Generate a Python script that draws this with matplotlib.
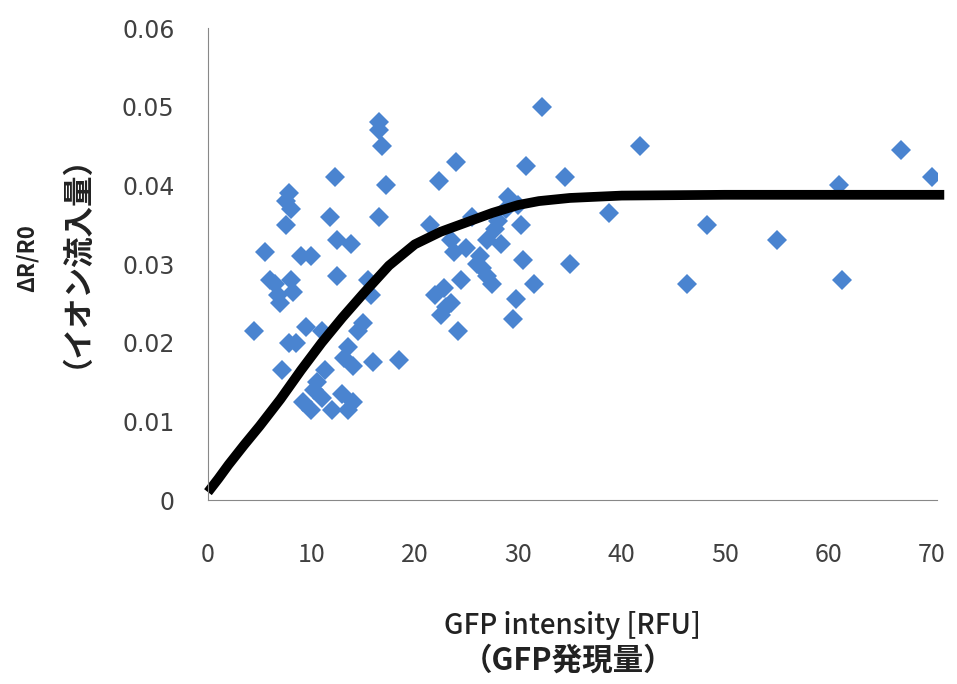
import matplotlib.pyplot as plt

# scatter data
gfp = [4.5, 5.5, 6.0, 6.5, 6.8, 7.0, 7.2, 7.5, 7.8, 8.0, 7.5, 8.0, 7.8, 8.2, 8.5,
       9.0, 9.2, 9.5, 10.0, 10.0, 10.3, 10.5, 11.0, 11.0, 11.3, 11.8, 12.0, 12.3,
       12.5, 12.5, 13.0, 13.2, 13.5, 13.5, 13.8, 14.0, 14.0, 14.5, 15.0, 15.5,
       15.8, 16.0, 16.5, 16.5, 16.8, 16.5, 17.2, 18.5,
       21.5, 22.0, 22.3, 22.5, 22.8, 23.0, 23.5, 23.5, 23.8, 24.0, 24.2, 24.5,
       25.0, 25.5, 26.0, 26.3, 26.5, 27.0, 27.0, 27.5, 27.8, 28.0, 28.3, 28.8,
       29.0, 29.5, 29.8, 30.0, 30.3, 30.5, 30.8, 31.5, 32.3, 34.5, 35.0,
       38.8, 41.8, 46.3, 48.3, 55.0, 61.0, 61.3, 67.0, 70.0]
ratio = [0.0215, 0.0315, 0.028, 0.0275, 0.026, 0.025, 0.0165, 0.038, 0.039, 0.037,
         0.035, 0.028, 0.020, 0.0265, 0.020, 0.031, 0.0125, 0.022, 0.0115, 0.031,
         0.014, 0.015, 0.013, 0.0215, 0.0165, 0.036, 0.0115, 0.041, 0.033, 0.0285,
         0.0135, 0.018, 0.0195, 0.0115, 0.0325, 0.0125, 0.017, 0.0215, 0.0225,
         0.028, 0.026, 0.0175, 0.047, 0.048, 0.045, 0.036, 0.040, 0.0178,
         0.035, 0.026, 0.0405, 0.0235, 0.027, 0.0245, 0.025, 0.033, 0.0315, 0.043,
         0.0215, 0.028, 0.032, 0.036, 0.030, 0.031, 0.0295, 0.033, 0.0285, 0.0275,
         0.0345, 0.0355, 0.0325, 0.037, 0.0385, 0.023, 0.0255, 0.0375, 0.035,
         0.0305, 0.0425, 0.0275, 0.050, 0.041, 0.030,
         0.0365, 0.045, 0.0275, 0.035, 0.033, 0.040, 0.028, 0.0445, 0.041]

# fitted curve (smooth saturation)
fit_x = [0, 1, 2, 3.5, 5, 7, 9, 11, 13, 15, 17.5, 20, 22.5, 25, 27.5, 30, 32,
         35, 40, 50, 60, 71.2]
fit_y = [0.001, 0.0027, 0.0045, 0.0070, 0.0094, 0.0128, 0.0165, 0.0200, 0.0232,
         0.0262, 0.0298, 0.0325, 0.0341, 0.0353, 0.0365, 0.0375, 0.0380, 0.0384,
         0.0387, 0.0388, 0.0388, 0.0388]

fig = plt.figure(figsize=(9.57, 6.84), dpi=100)
ax = fig.add_axes([0.2173, 0.269, 0.7618, 0.690])

ax.plot(gfp, ratio, linestyle='none', marker='D', markersize=10,
        color='#4a84d0', markeredgewidth=0)
ax.plot(fit_x, fit_y, color='black', linewidth=7, clip_on=False,
        solid_capstyle='butt', solid_joinstyle='round')

ax.set_xlim(0, 70.5)
ax.set_ylim(0, 0.06)
ax.set_xticks([0, 10, 20, 30, 40, 50, 60, 70])
ax.set_yticks([0, 0.01, 0.02, 0.03, 0.04, 0.05, 0.06])
ax.set_yticklabels(['0', '0.01', '0.02', '0.03', '0.04', '0.05', '0.06'])
ax.tick_params(length=0, colors='#404040')
ax.tick_params(axis='x', pad=30)
ax.tick_params(axis='y', pad=24, labelsize=17)
for lab in ax.get_xticklabels():
    lab.set_fontfamily('Noto Sans CJK JP')
    lab.set_fontsize(18)

for side in ['top', 'right']:
    ax.spines[side].set_visible(False)
ax.spines['left'].set_color('#888888')
ax.spines['bottom'].set_color('#888888')

jp = ['Noto Sans CJK JP', 'DejaVu Sans']
fig.text(0.028, 0.622, 'ΔR/R0', rotation=90, ha='center', va='center',
         fontsize=16, fontweight='bold', family=jp, color='#222222')
fig.text(0.063, 0.64, '（イオン流入量）', rotation=90, ha='center', va='center',
         fontsize=22, fontweight='bold', family=jp, color='#222222')
fig.text(0.598, 0.086, 'GFP intensity [RFU]', ha='center', va='center',
         fontsize=20, fontweight='medium', family=jp, color='#222222')
fig.text(0.594, 0.034, '（GFP発現量）', ha='center', va='center',
         fontsize=22, fontweight='bold', family=jp, color='#222222')

fig.savefig('out.png', dpi=100)
